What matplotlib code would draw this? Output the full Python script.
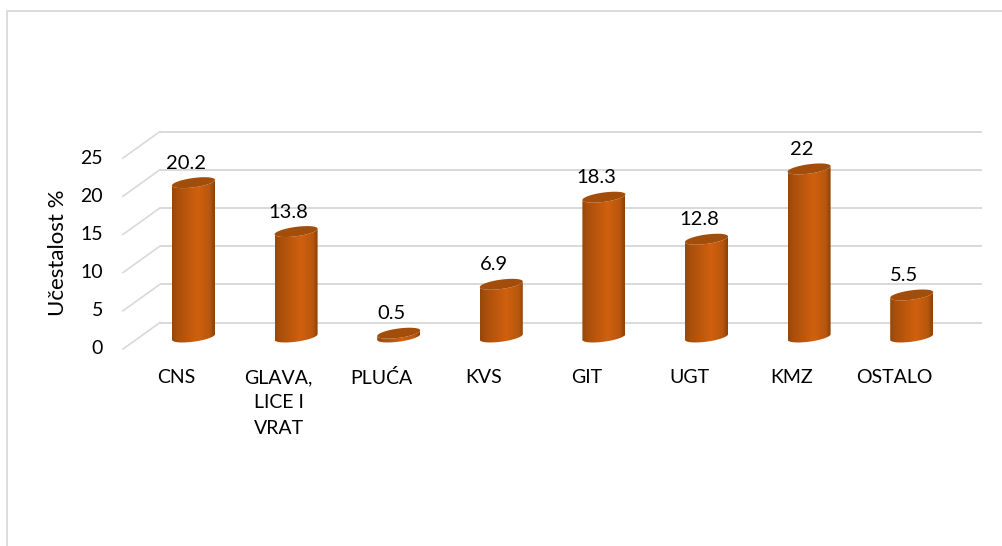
#!/usr/bin/env python3
import numpy as np
import matplotlib
matplotlib.use('Agg')
import matplotlib.pyplot as plt
from matplotlib.colors import LinearSegmentedColormap
from matplotlib.patches import PathPatch, Rectangle
from matplotlib.path import Path
from matplotlib.transforms import offset_copy

categories = ['CNS', 'GLAVA,\nLICE I\nVRAT', 'PLUĆA', 'KVS', 'GIT', 'UGT', 'KMZ', 'OSTALO']
values = [20.2, 13.8, 0.5, 6.9, 18.3, 12.8, 22, 5.5]
value_labels = ['20.2', '13.8', '0.5', '6.9', '18.3', '12.8', '22', '5.5']
y_ticks = [0, 5, 10, 15, 20, 25]

plt.rcParams['font.family'] = ['Lato', 'DejaVu Sans']

W, H = 1003, 546
# pixel scale of the bar plane: category 0 at x0, value 0 at y0
x0, x_step = 193.5, 102.6
y0, y_step = 337, 7.64

fig = plt.figure(figsize=(W / 100, H / 100), dpi=100)
ax = fig.add_axes([0, 0, 1, 1])
ax.set_xlim(-x0 / x_step, (W - x0) / x_step)
ax.set_ylim((y0 - H) / y_step, y0 / y_step)
ax.axis('off')

# offset of the back wall, in pixels
back = offset_copy(ax.transData, fig=fig, x=0, y=14.5, units='dots')

grid_color = '#d9d9d9'
for v in y_ticks:
    ax.plot([(160 - x0) / x_step, (982 - x0) / x_step], [v, v], color=grid_color, lw=1.4,
            transform=back, solid_capstyle='butt', zorder=1)
    # slanted line from the front edge to the wall
    xa, ya = (123 - x0) / x_step, v - 12 / y_step
    xb, yb = (160 - x0) / x_step, v + 14.5 / y_step
    ax.plot([xa, xb], [ya, yb], color=grid_color, lw=1.2, zorder=1)

# outer frame, only top and left are visible
ax.add_patch(Rectangle((-x0 / x_step + 6.5 / x_step, (y0 - H - 10) / y_step),
                       (W + 20) / x_step, (H - 10.5 + 10) / y_step,
                       fill=False, ec='#dcdcdc', lw=1.4, zorder=0, clip_on=True))

# horizontal shading of the cylinders
shade = LinearSegmentedColormap.from_list('shade', [
    (0.0, '#96480a'), (0.12, '#a94f0b'), (0.6, '#d0600f'), (0.88, '#b8570d'), (1.0, '#8a4208')])
grad = np.linspace(0, 1, 128).reshape(1, -1)

half_w = 21.5
tilt = 2.8
minor = 4.7
t = np.linspace(0, 2 * np.pi, 73)


def ellipse_xy(xc, yc, angle):
    # tilted ellipse in data units, sizes are pixels
    x = xc + half_w * np.cos(angle) / x_step
    y = yc + (tilt * np.cos(angle) + minor * np.sin(angle)) / y_step
    return x, y


for i, v in enumerate(values):
    # body: lower arc of base, then upper arc (hidden part) of the top ellipse
    arc = np.linspace(np.pi, 2 * np.pi, 37)
    bx, by = ellipse_xy(i, 0, arc)
    tx, ty = ellipse_xy(i, v, arc[::-1])
    body = np.column_stack([np.r_[bx, tx], np.r_[by, ty]])
    patch = PathPatch(Path(np.vstack([body, body[:1]]), closed=True), fc='none', ec='none', zorder=3)
    ax.add_patch(patch)
    im = ax.imshow(grad, cmap=shade, aspect='auto', zorder=3, interpolation='bilinear',
                   extent=[i - half_w / x_step, i + half_w / x_step, -3, v + 3])
    im.set_clip_path(patch)
    ex, ey = ellipse_xy(i, v, t)
    ax.fill(ex, ey, color='#a34d0b', lw=0, zorder=4)
    ax.text(i - 7.5 / x_step, v + 19.5 / y_step, value_labels[i], ha='center', va='center', fontsize=14.5,
            color='black', zorder=5)

ax.set_xlim(-x0 / x_step, (W - x0) / x_step)
ax.set_ylim((y0 - H) / y_step, y0 / y_step)

# category labels sit left of the bars
for i, name in enumerate(categories):
    ax.text(i - 17.5 / x_step, (y0 - 369) / y_step, name, ha='center', va='top', fontsize=14,
            color='black', linespacing=1.6)

for v in y_ticks:
    ax.text((103 - x0) / x_step, v - 12 / y_step, str(v), ha='right', va='center', fontsize=14,
            color='black')

ax.text((58 - x0) / x_step, (y0 - 253) / y_step, 'Učestalost %', rotation=90, ha='center',
        va='center', fontsize=16, color='black')

fig.savefig('out.png', dpi=100)
